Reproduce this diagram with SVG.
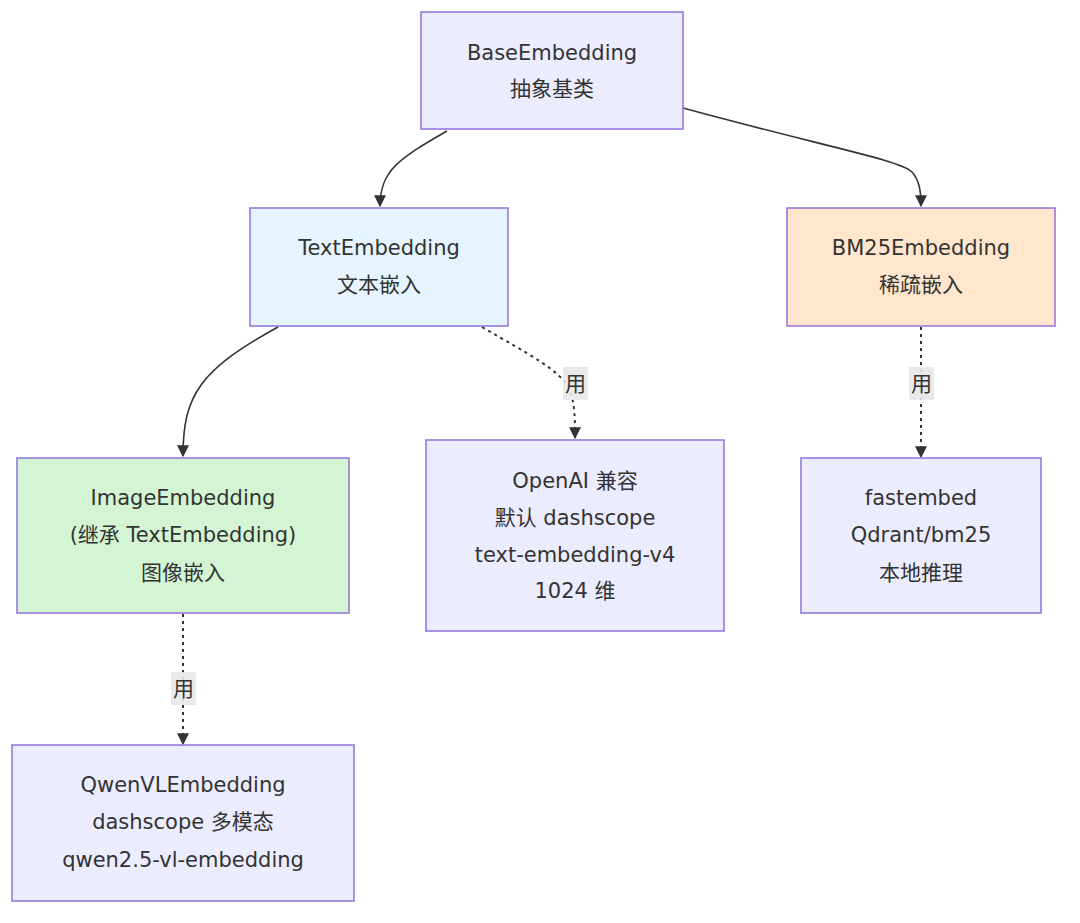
<svg xmlns="http://www.w3.org/2000/svg" width="1080" height="923" viewBox="0 0 1080 923">
<defs>
<style>
.n{stroke:#9370DB;stroke-width:1.5}
.t{font-family:"DejaVu Sans","Noto Sans CJK SC",sans-serif;font-size:21px;fill:#333;text-anchor:middle}
.e{fill:none;stroke:#333;stroke-width:1.6}
.d{stroke-dasharray:3 4;stroke-width:2}
.lb{fill:#e8e8e8;opacity:0.9}
</style>
<marker id="ah" viewBox="0 0 10 10" refX="9" refY="5" markerWidth="12" markerHeight="12" markerUnits="userSpaceOnUse" orient="auto"><path d="M0,0L10,5L0,10z" fill="#333"/></marker>
</defs>
<rect width="1080" height="923" fill="#fff"/>
<g id="connectors">
<path class="e" d="M447,131 C400,158 380,170 380,206" marker-end="url(#ah)"/>
<path class="e" d="M683,108 C830,148 900,160 912,172 C919,180 921,190 921,206" marker-end="url(#ah)"/>
<path class="e" d="M278,327 C200,370 183,395 183,456" marker-end="url(#ah)"/>
<path class="e d" d="M482,327 C530,355 560,370 570,390 C575,405 575,420 575,438" marker-end="url(#ah)"/>
<path class="e d" d="M921,327 L921,457" marker-end="url(#ah)"/>
<path class="e d" d="M183,614 L183,744" marker-end="url(#ah)"/>
<rect class="lb" x="563" y="367" width="25" height="33"/>
<text class="t" x="575.5" y="391">用</text>
<rect class="lb" x="909" y="367" width="25" height="33"/>
<text class="t" x="921.5" y="391">用</text>
<rect class="lb" x="171" y="672" width="25" height="33"/>
<text class="t" x="183.5" y="696">用</text>
</g>
<g id="base"><rect class="n" x="421" y="12" width="262" height="117" fill="#ECECFF"/>
<text class="t" x="552" y="60">BaseEmbedding</text><text class="t" x="552" y="96">抽象基类</text></g>
<g id="text"><rect class="n" x="250" y="208" width="258" height="118" fill="#E6F4FF"/>
<text class="t" x="379" y="255">TextEmbedding</text><text class="t" x="379" y="292">文本嵌入</text></g>
<g id="bm25"><rect class="n" x="787" y="208" width="268" height="118" fill="#FFE6CC"/>
<text class="t" x="921" y="255">BM25Embedding</text><text class="t" x="921" y="292">稀疏嵌入</text></g>
<g id="image"><rect class="n" x="17" y="458" width="332" height="155" fill="#D4F5D4"/>
<text class="t" x="183" y="505">ImageEmbedding</text><text class="t" x="183" y="542">(继承 TextEmbedding)</text><text class="t" x="183" y="580">图像嵌入</text></g>
<g id="openai"><rect class="n" x="426" y="440" width="298" height="191" fill="#ECECFF"/>
<text class="t" x="575" y="488">OpenAI 兼容</text><text class="t" x="575" y="525">默认 dashscope</text><text class="t" x="575" y="562">text-embedding-v4</text><text class="t" x="575" y="598">1024 维</text></g>
<g id="fastembed"><rect class="n" x="801" y="458" width="240" height="155" fill="#ECECFF"/>
<text class="t" x="921" y="505">fastembed</text><text class="t" x="921" y="542">Qdrant/bm25</text><text class="t" x="921" y="580">本地推理</text></g>
<g id="qwen"><rect class="n" x="12" y="745" width="342" height="156" fill="#ECECFF"/>
<text class="t" x="183" y="792">QwenVLEmbedding</text><text class="t" x="183" y="829">dashscope 多模态</text><text class="t" x="183" y="867">qwen2.5-vl-embedding</text></g>
</svg>
